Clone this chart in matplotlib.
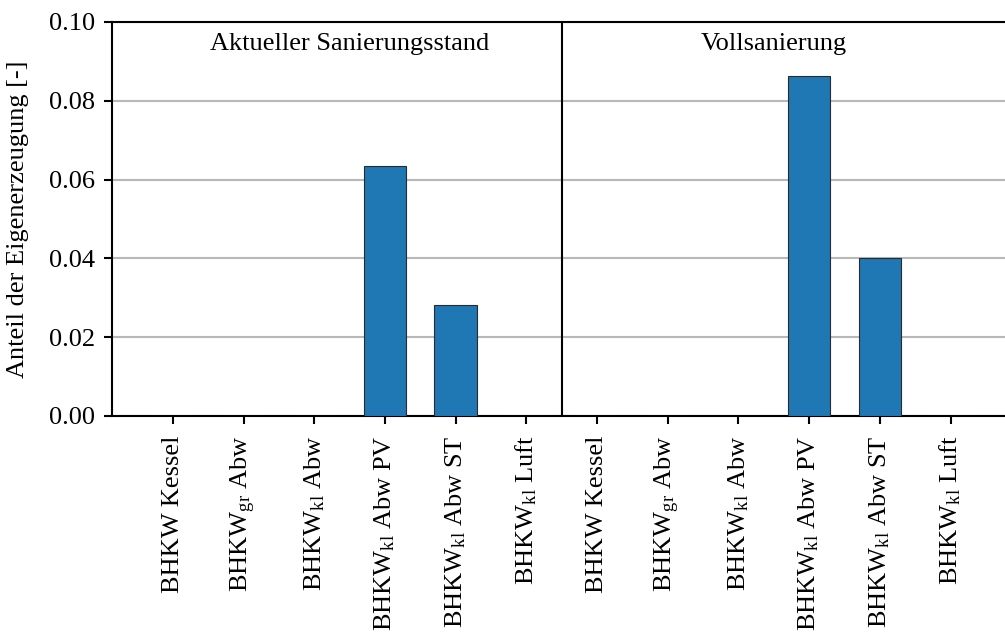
import numpy as np
import matplotlib.pyplot as plt

plt.rcParams['font.family'] = ['Liberation Serif', 'DejaVu Serif']
plt.rcParams['mathtext.fontset'] = 'custom'
plt.rcParams['mathtext.rm'] = 'Liberation Serif'
plt.rcParams['mathtext.default'] = 'regular'

# --- Daten ---
varianten = ["BHKW Kessel", r"BHKW$_{gr}$ Abw", r"BHKW$_{kl}$ Abw",
             r"BHKW$_{kl}$ Abw PV", r"BHKW$_{kl}$ Abw ST", r"BHKW$_{kl}$ Luft"]
szenarien = ["Aktueller Sanierungsstand", "Vollsanierung"]
anteil_aktuell = [0.0, 0.0, 0.0, 0.0635, 0.0282, 0.0]
anteil_voll = [0.0, 0.0, 0.0, 0.0863, 0.0400, 0.0]

labels = varianten + varianten
werte = anteil_aktuell + anteil_voll
x = np.arange(len(labels))

fig = plt.figure(figsize=(10.05, 6.42), dpi=100)
ax = fig.add_axes([112 / 1005, 1 - 416 / 642, 1 - 112 / 1005, (416 - 22) / 642])

ax.bar(x, werte, width=0.6, color='#1f77b4', edgecolor='#2b2b2b', linewidth=0.8, zorder=3)
ax.axvline(5.5, color='black', linewidth=1.5, zorder=4)

ax.set_xlim(-0.86, 11.77)
ax.set_ylim(0, 0.10)
ax.set_yticks([0.0, 0.02, 0.04, 0.06, 0.08, 0.10])
ax.set_yticklabels([f"{v:.2f}" for v in ax.get_yticks()])
ax.set_xticks(x)
ax.set_xticklabels(labels, rotation=90)
ax.tick_params(axis='both', labelsize=19, width=1.5, length=6, color='black')
ax.tick_params(axis='y', pad=6)
ax.tick_params(axis='x', pad=8)
ax.yaxis.grid(True, color='#b8b8b8', linewidth=1.5, zorder=0)
ax.set_axisbelow(True)

for s in ['left', 'bottom', 'top']:
    ax.spines[s].set_linewidth(1.5)
ax.spines['right'].set_visible(False)

ax.text(2.5, 0.0943, szenarien[0], ha='center', va='center', fontsize=19)
ax.text(8.5, 0.0943, szenarien[1], ha='center', va='center', fontsize=19)

ax.set_ylabel("Anteil der Eigenerzeugung [-]", fontsize=19)
ax.yaxis.set_label_coords(-0.093, 0.5)

fig.savefig("out.png", dpi=100)
